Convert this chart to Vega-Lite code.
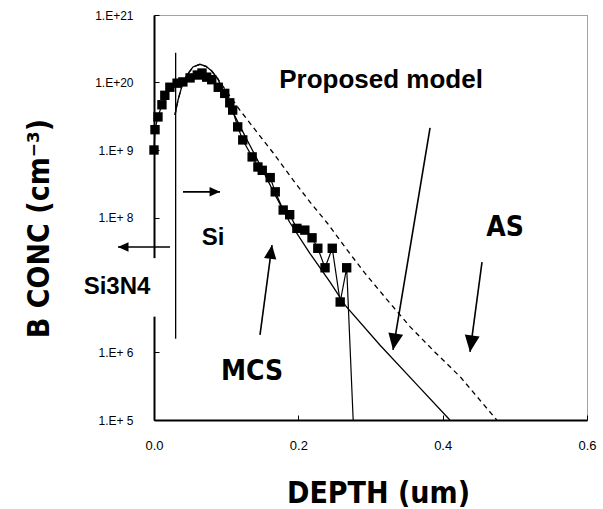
{
  "$schema": "https://vega.github.io/schema/vega-lite/v6.json",
  "width": 433,
  "height": 405,
  "autosize": {"type": "none"},
  "padding": {"left": 154, "top": 15, "right": 16, "bottom": 89},
  "background": "white",
  "config": {
    "view": {"stroke": "#444", "strokeWidth": 1, "strokeDash": [1, 1]}
  },
  "datasets": {
    "mcs": [
      {"d": 0.000, "c": 1.0e19}, {"d": 0.0014, "c": 2.0e19}, {"d": 0.0055, "c": 3.09e19},
      {"d": 0.011, "c": 4.68e19}, {"d": 0.015, "c": 6.46e19}, {"d": 0.022, "c": 8.51e19},
      {"d": 0.032, "c": 9.77e19}, {"d": 0.040, "c": 1.02e20}, {"d": 0.050, "c": 1.17e20},
      {"d": 0.060, "c": 1.29e20}, {"d": 0.0665, "c": 1.38e20}, {"d": 0.073, "c": 1.20e20},
      {"d": 0.080, "c": 1.10e20}, {"d": 0.089, "c": 8.5e19}, {"d": 0.098, "c": 6.9e19},
      {"d": 0.105, "c": 5.0e19}, {"d": 0.109, "c": 3.9e19}, {"d": 0.116, "c": 2.2e19},
      {"d": 0.123, "c": 1.41e19}, {"d": 0.136, "c": 7.9e18}, {"d": 0.144, "c": 5.6e18},
      {"d": 0.150, "c": 5.0e18}, {"d": 0.161, "c": 3.9e18}, {"d": 0.168, "c": 2.4e18},
      {"d": 0.179, "c": 1.29e18}, {"d": 0.188, "c": 1.10e18}, {"d": 0.198, "c": 6.9e17},
      {"d": 0.209, "c": 6.5e17}, {"d": 0.219, "c": 5.0e17}, {"d": 0.227, "c": 3.5e17},
      {"d": 0.237, "c": 1.8e17}, {"d": 0.247, "c": 3.5e17}, {"d": 0.258, "c": 5.6e16},
      {"d": 0.267, "c": 1.8e17}, {"d": 0.276, "c": 1.0e15}
    ],
    "proposed": [
      {"d": 0.029, "c": 3.3e19}, {"d": 0.0333, "c": 5.5e19}, {"d": 0.0388, "c": 8.9e19},
      {"d": 0.0457, "c": 1.29e20}, {"d": 0.054, "c": 1.70e20}, {"d": 0.0637, "c": 1.86e20},
      {"d": 0.072, "c": 1.74e20}, {"d": 0.080, "c": 1.48e20}, {"d": 0.0887, "c": 1.12e20},
      {"d": 0.101, "c": 5.5e19}, {"d": 0.115, "c": 2.75e19}, {"d": 0.129, "c": 1.41e19},
      {"d": 0.147, "c": 6.0e18}, {"d": 0.168, "c": 2.14e18}, {"d": 0.188, "c": 8.5e17},
      {"d": 0.216, "c": 2.95e17}, {"d": 0.244, "c": 1.10e17}, {"d": 0.265, "c": 5.0e16},
      {"d": 0.313, "c": 1.29e16}, {"d": 0.362, "c": 3.55e15}, {"d": 0.410, "c": 1.0e15}
    ],
    "as": [
      {"d": 0.029, "c": 3.3e19}, {"d": 0.0333, "c": 5.5e19}, {"d": 0.0388, "c": 8.9e19},
      {"d": 0.0457, "c": 1.29e20}, {"d": 0.054, "c": 1.70e20}, {"d": 0.0637, "c": 1.86e20},
      {"d": 0.072, "c": 1.74e20}, {"d": 0.080, "c": 1.48e20}, {"d": 0.0887, "c": 1.12e20},
      {"d": 0.1025, "c": 6.9e19}, {"d": 0.119, "c": 3.9e19}, {"d": 0.140, "c": 2.0e19},
      {"d": 0.165, "c": 9.1e18}, {"d": 0.1926, "c": 3.6e18}, {"d": 0.216, "c": 1.70e18},
      {"d": 0.240, "c": 8.3e17}, {"d": 0.265, "c": 3.6e17}, {"d": 0.292, "c": 1.51e17},
      {"d": 0.320, "c": 6.6e16}, {"d": 0.355, "c": 2.4e16}, {"d": 0.389, "c": 1.02e16},
      {"d": 0.424, "c": 4.4e15}, {"d": 0.475, "c": 1.0e15}
    ],
    "iface": [{"d": 0.03, "c": 2.75e20, "c2": 1.6e16}],
    "mask": [{"d": -0.004, "d2": 0.004, "c": 2.5e17, "c2": 3.4e16}],
    "arrows": [
      {"id": "right", "d": 0.0915, "c": 2.4e18, "d2": 0.0402, "c2": 2.4e18},
      {"id": "left", "d": -0.0499, "c": 3.65e17, "d2": 0.0222, "c2": 3.65e17},
      {"id": "mcs", "d": 0.1635, "c": 3.9e17, "d2": 0.1469, "c2": 1.82e16},
      {"id": "proposed", "d": 0.3312, "c": 1.09e16, "d2": 0.3825, "c2": 2.12e19},
      {"id": "as", "d": 0.4379, "c": 1.02e16, "d2": 0.4545, "c2": 2.19e17}
    ],
    "texts": [
      {"t": "Proposed model", "d": 0.3146, "c": 1.09e20},
      {"t": "Si", "d": 0.0818, "c": 5.0e17},
      {"t": "Si3N4", "d": -0.0513, "c": 9.3e16},
      {"t": "MCS", "d": 0.1358, "c": 5.1e15},
      {"t": "AS", "d": 0.4864, "c": 6.98e17}
    ]
  },
  "encoding": {
    "x": {
      "field": "d", "type": "quantitative",
      "scale": {"domain": [0, 0.6], "nice": false, "zero": false},
      "axis": {
        "title": "DEPTH (um)", "values": [0, 0.2, 0.4, 0.6], "format": ".1f",
        "grid": false, "domainColor": "black", "domainWidth": 2,
        "tickColor": "black", "tickSize": -5, "tickWidth": 1,
        "labelFont": "Liberation Sans", "labelFontSize": 13, "labelColor": "black",
        "labelPadding": 24, "labelFlush": false, "labelOverlap": false,
        "titleFont": "'Liberation Sans Narrow', 'DejaVu Sans Condensed', 'Liberation Sans'",
        "titleFontSize": 30, "titleFontWeight": "bold", "titleColor": "black",
        "titleX": 224, "titleY": 82, "titleBaseline": "alphabetic", "titleAlign": "center",
        "zindex": 0
      }
    },
    "y": {
      "field": "c", "type": "quantitative",
      "scale": {"type": "log", "domain": [1e15, 1e21], "nice": false},
      "axis": {
        "title": "B CONC  (cm⁻³)", "values": [1e15, 1e16, 1e18, 1e19, 1e20, 1e21],
        "labelExpr": "round(log(datum.value)/LN10) >= 20 ? '1.E+' + round(log(datum.value)/LN10) : '1.E+ ' + (round(log(datum.value)/LN10) - 10)",
        "grid": false, "domainColor": "black", "domainWidth": 2,
        "tickColor": "black", "tickSize": -5, "tickWidth": 1,
        "labelFont": "Liberation Sans", "labelFontSize": 12, "labelColor": "black",
        "labelPadding": 26, "labelOverlap": false, "labelFlush": false,
        "titleFont": "'Liberation Sans Narrow', 'DejaVu Sans Condensed', 'Liberation Sans'",
        "titleFontSize": 30, "titleFontWeight": "bold", "titleColor": "black",
        "titleX": -106, "titleY": 213, "titleBaseline": "alphabetic", "titleAlign": "center",
        "zindex": 0
      }
    }
  },
  "layer": [
    {
      "data": {"name": "mask"},
      "mark": {"type": "rect", "fill": "white", "stroke": null},
      "encoding": {"x2": {"field": "d2"}, "y2": {"field": "c2"}}
    },
    {
      "data": {"name": "iface"},
      "mark": {"type": "rule", "color": "black", "strokeWidth": 1.3},
      "encoding": {"y2": {"field": "c2"}}
    },
    {
      "data": {"name": "as"},
      "mark": {"type": "line", "color": "black", "strokeWidth": 1.3, "strokeDash": [5, 4]},
      "encoding": {}
    },
    {
      "data": {"name": "proposed"},
      "mark": {"type": "line", "color": "black", "strokeWidth": 1.3},
      "encoding": {}
    },
    {
      "data": {"name": "mcs"},
      "mark": {"type": "line", "color": "black", "strokeWidth": 1.2},
      "encoding": {}
    },
    {
      "data": {"name": "mcs"},
      "transform": [{"filter": {"field": "c", "gt": 1e15}}],
      "mark": {"type": "point", "shape": "square", "filled": true, "color": "black", "size": 88, "opacity": 1}
    },
    {
      "data": {"name": "arrows"},
      "mark": {"type": "rule", "color": "black", "strokeWidth": 1.6},
      "encoding": {"x2": {"field": "d2"}, "y2": {"field": "c2"}}
    },
    {
      "data": {"name": "arrows"},
      "transform": [{"filter": {"field": "id", "equal": "right"}}],
      "mark": {"type": "point", "shape": "M0,0L-0.45,1L0.45,1Z", "filled": true, "color": "black", "opacity": 1, "size": 440, "angle": 90}
    },
    {
      "data": {"name": "arrows"},
      "transform": [{"filter": {"field": "id", "equal": "left"}}],
      "mark": {"type": "point", "shape": "M0,0L-0.45,1L0.45,1Z", "filled": true, "color": "black", "opacity": 1, "size": 440, "angle": 270}
    },
    {
      "data": {"name": "arrows"},
      "transform": [{"filter": {"field": "id", "equal": "mcs"}}],
      "mark": {"type": "point", "shape": "M0,0L-0.45,1L0.45,1Z", "filled": true, "color": "black", "opacity": 1, "size": 760, "angle": 7.6}
    },
    {
      "data": {"name": "arrows"},
      "transform": [{"filter": {"field": "id", "equal": "proposed"}}],
      "mark": {"type": "point", "shape": "M0,0L-0.45,1L0.45,1Z", "filled": true, "color": "black", "opacity": 1, "size": 1100, "angle": 189.5}
    },
    {
      "data": {"name": "arrows"},
      "transform": [{"filter": {"field": "id", "equal": "as"}}],
      "mark": {"type": "point", "shape": "M0,0L-0.45,1L0.45,1Z", "filled": true, "color": "black", "opacity": 1, "size": 1100, "angle": 187.6}
    },
    {
      "data": {"name": "texts"},
      "transform": [{"filter": {"field": "t", "equal": "Proposed model"}}],
      "mark": {"type": "text", "font": "Liberation Sans", "fontWeight": "bold", "fontSize": 26, "color": "black", "align": "center", "baseline": "middle"},
      "encoding": {"text": {"field": "t"}}
    },
    {
      "data": {"name": "texts"},
      "transform": [{"filter": {"field": "t", "oneOf": ["Si", "Si3N4"]}}],
      "mark": {"type": "text", "font": "Liberation Sans", "fontWeight": "bold", "fontSize": 24, "color": "black", "align": "center", "baseline": "middle"},
      "encoding": {"text": {"field": "t"}}
    },
    {
      "data": {"name": "texts"},
      "transform": [{"filter": {"field": "t", "oneOf": ["MCS", "AS"]}}],
      "mark": {"type": "text", "font": "'Liberation Sans Narrow', 'DejaVu Sans Condensed', 'Liberation Sans'", "fontWeight": "bold", "fontSize": 28, "color": "black", "align": "center", "baseline": "middle"},
      "encoding": {"text": {"field": "t"}}
    }
  ]
}
